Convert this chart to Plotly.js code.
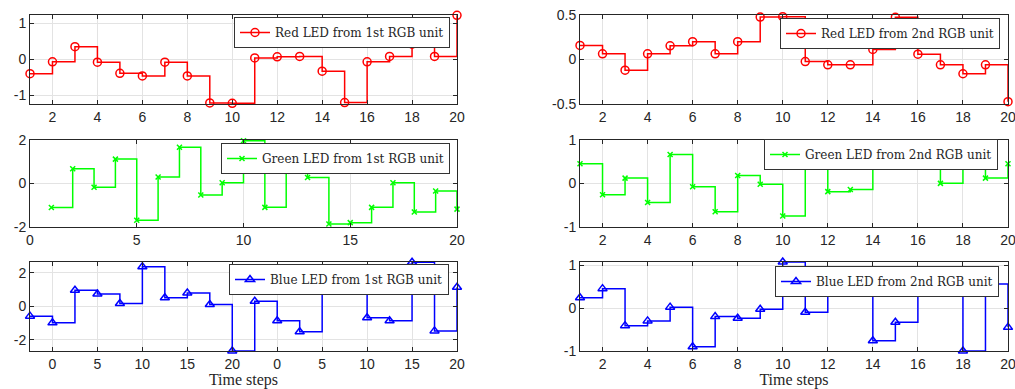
<!DOCTYPE html>
<html>
<head>
<meta charset="utf-8">
<script src="https://cdn.plot.ly/plotly-3.0.1.min.js"></script>
<style>html,body{margin:0;padding:0;background:#fff;}#chart{width:1015px;height:389px;}</style>
</head>
<body>
<div id="chart"></div>
<script>
// ---- data ----
const timeSteps = [1,2,3,4,5,6,7,8,9,10,11,12,13,14,15,16,17,18,19,20];
const red1   = [-0.40,-0.07,0.35,-0.08,-0.39,-0.46,-0.08,-0.46,-1.21,-1.22,0.04,0.07,0.08,-0.33,-1.20,-0.07,0.08,0.42,0.08,1.22];
const red2   = [0.158,0.064,-0.12,0.064,0.154,0.20,0.064,0.20,0.477,0.481,-0.023,-0.06,-0.06,0.113,0.474,0.06,-0.06,-0.16,-0.06,-0.474];
const green1 = [-1.11,0.67,-0.18,1.11,-1.69,0.29,1.65,-0.53,0.03,1.95,-1.10,0.56,0.27,-1.86,-1.80,-1.10,0.03,-1.31,-0.35,-1.18];
const green2 = [0.45,-0.26,0.12,-0.44,0.66,-0.08,-0.65,0.18,-0.02,-0.75,0.41,-0.19,-0.14,0.70,0.85,0.47,0.00,0.60,0.12,0.45];
const blue1  = [-0.59,-0.99,0.95,0.73,0.16,2.36,0.51,0.79,0.10,-2.67,0.30,-0.87,-1.52,1.50,1.01,-0.69,-0.87,2.63,-1.47,1.13];
const blue2  = [0.24,0.45,-0.41,-0.30,0.02,-0.90,-0.20,-0.24,-0.03,1.07,-0.10,0.36,0.70,-0.76,-0.33,0.32,0.40,-1.00,0.56,-0.45];
const names = ["Red LED from 1st RGB unit","Red LED from 2nd RGB unit",
               "Green LED from 1st RGB unit","Green LED from 2nd RGB unit",
               "Blue LED from 1st RGB unit","Blue LED from 2nd RGB unit"];
const blue1TickVals = [2,4,6,8,10,12,14,16,18,20];
const blue1TickText = ["0","5","10","15","20","0","5","10","15","20"];
const xTitle = "Time steps";

// ---- layout helpers ----
const W = 1015, H = 389;
const colX = [[30,457],[580,1008]];
const rowY = [[15,104],[139.7,227],[262,351]];
const tickFont = {family:"Liberation Sans, Arial, sans-serif", size:14, color:"#262626"};
const serif = "DejaVu Serif, Liberation Serif, serif";

function axisBase(){
  return {showline:true, mirror:'ticks', linecolor:'#262626', linewidth:1,
          ticks:'inside', ticklen:4, tickcolor:'#262626', tickwidth:1,
          showgrid:true, gridcolor:'#e3e3e3', gridwidth:1, zeroline:false,
          tickfont:tickFont, fixedrange:true, ticklabeloverflow:'allow'};
}

const series = [
  {y:red1, color:'#ff0000', sym:'circle-open', size:8, row:0, col:0},
  {y:red2, color:'#ff0000', sym:'circle-open', size:8, row:0, col:1},
  {y:green1, color:'#00ff00', sym:'x-thin-open', size:5, row:1, col:0},
  {y:green2, color:'#00ff00', sym:'x-thin-open', size:5, row:1, col:1},
  {y:blue1, color:'#0000ff', sym:'triangle-up-open', size:8, row:2, col:0},
  {y:blue2, color:'#0000ff', sym:'triangle-up-open', size:8, row:2, col:1}
];
const yRanges = [[-1.24,1.23],[-0.5,0.5],[-2,2],[-1,1],[-2.67,2.64],[-1.0,1.07]];
const yTicks = [[-1,0,1],[-0.5,0,0.5],[-2,0,2],[-1,0,1],[-2,0,2],[-1,0,1]];
const yTickText = [["-1","0","1"],["-0.5","0","0.5"],["-2","0","2"],["-1","0","1"],["-2","0","2"],["-1","0","1"]];
const xRanges = [[1,20],[1,20],[0,20],[1,20],[1,20],[1,20]];
const legendBox = [[450,17],[1000,18],[450,143],[998,139],[449,264],[999,266]];

const data = [];
const layout = {width:W, height:H, margin:{l:0,r:0,t:0,b:0,autoexpand:false},
  paper_bgcolor:'#fff', plot_bgcolor:'#fff', showlegend:true, annotations:[]};

series.forEach((s,i)=>{
  const k = i+1;
  const xa = 'xaxis'+(k===1?'':k), ya = 'yaxis'+(k===1?'':k);
  const lg = 'legend'+(k===1?'':k);
  data.push({x:timeSteps, y:s.y, type:'scatter', mode:'lines+markers', name:names[i],
    xaxis:'x'+(k===1?'':k), yaxis:'y'+(k===1?'':k), legend:lg, cliponaxis:false,
    line:{shape:'hv', color:s.color, width:1.5},
    marker:{symbol:s.sym, size:s.size, color:s.color, line:{color:s.color, width:1.5}},
    hoverinfo:'skip'});
  const cx = colX[s.col], ry = rowY[s.row];
  const xax = axisBase();
  xax.domain = [cx[0]/W, cx[1]/W];
  xax.range = xRanges[i];
  xax.anchor = 'y'+(k===1?'':k);
  if (i===2){ xax.tickvals=[0,5,10,15,20]; }
  else if (i===4){ xax.tickvals=blue1TickVals; xax.ticktext=blue1TickText; }
  else { xax.tickvals=[2,4,6,8,10,12,14,16,18,20]; }
  if (s.row===2){ xax.title = {text:xTitle, font:{family:"Liberation Serif, serif", size:16, color:'#262626'}, standoff:3}; }
  const yax = axisBase();
  yax.domain = [1-ry[1]/H, 1-ry[0]/H];
  yax.range = yRanges[i];
  yax.anchor = 'x'+(k===1?'':k);
  yax.tickvals = yTicks[i]; yax.ticktext = yTickText[i];
  layout[xa]=xax; layout[ya]=yax;
  const lb = legendBox[i];
  layout[lg] = {x:lb[0]/W, y:1-lb[1]/H, xanchor:'right', yanchor:'top',
    bgcolor:'#fff', bordercolor:'#333', borderwidth:1,
    font:{family:serif, size:12, color:'#262626'}, itemwidth:30,
    tracegroupgap:0, itemclick:false, itemdoubleclick:false};
});

Plotly.newPlot('chart', data, layout, {displayModeBar:false, staticPlot:true});
</script>
</body>
</html>
